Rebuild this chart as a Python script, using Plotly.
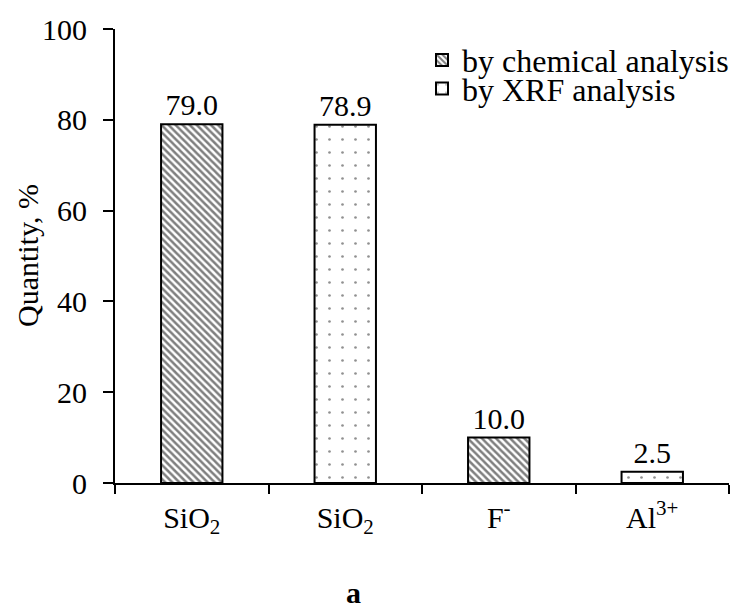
import plotly.graph_objects as go

# Categories along the x axis (the second SiO2 column carries a zero-width
# space so that both SiO2 columns stay separate categories)
categories = ["SiO<sub>2</sub>", "SiO<sub>2</sub>\u200b", "F<sup>-</sup>", "Al<sup>3+</sup>"]

# Quantity, % by method
chem_categories = [categories[0], categories[2]]
chem_values = [79.0, 10.0]
xrf_categories = [categories[1], categories[3]]
xrf_values = [78.9, 2.5]

y_ticks = [0, 20, 40, 60, 80, 100]

FONT = "Liberation Serif, Times New Roman, serif"

fig = go.Figure()

fig.add_trace(go.Bar(
    name="by chemical analysis",
    x=chem_categories, y=chem_values,
    width=0.4,
    marker=dict(color="white",
                line=dict(color="black", width=2),
                pattern=dict(shape="\\", size=5, solidity=0.5,
                             fgcolor="black", bgcolor="white")),
    texttemplate="%{y:.1f}", textposition="outside",
    textfont=dict(family=FONT, size=30, color="black"),
    constraintext="none", cliponaxis=False,
    showlegend=True, legend="legend",
))

fig.add_trace(go.Bar(
    name="by XRF analysis",
    x=xrf_categories, y=xrf_values,
    width=0.4,
    marker=dict(color="white",
                line=dict(color="black", width=2),
                pattern=dict(shape=".", size=13, solidity=0.035,
                             fgcolor="#222222", bgcolor="white")),
    texttemplate="%{y:.1f}", textposition="outside",
    textfont=dict(family=FONT, size=30, color="black"),
    constraintext="none", cliponaxis=False,
    showlegend=True, legend="legend2",
))

legend_common = dict(
    xref="paper", yref="paper", xanchor="left", yanchor="top",
    bgcolor="rgba(0,0,0,0)", borderwidth=0, visible=True,
    font=dict(family=FONT, size=32, color="black"),
)

fig.update_layout(
    width=732, height=609,
    margin=dict(l=115, r=3, t=29, b=126, autoexpand=False),
    paper_bgcolor="white", plot_bgcolor="white",
    font=dict(family=FONT, size=30, color="black"),
    barmode="overlay",
    showlegend=True,
    legend=dict(x=0.5, y=0.992, **legend_common),
    legend2=dict(x=0.5, y=0.929, **legend_common),
    xaxis=dict(
        type="category", categoryorder="array", categoryarray=categories,
        tickson="boundaries", ticks="outside", ticklen=9, tickwidth=2,
        tickcolor="black", showline=True, linecolor="black", linewidth=2,
        showgrid=False, zeroline=False, ticklabelstandoff=7,
        tickfont=dict(family=FONT, size=30, color="black"),
    ),
    yaxis=dict(
        range=[0, 100], tickmode="array", tickvals=y_ticks,
        ticks="outside", ticklen=10, tickwidth=2, tickcolor="black",
        showline=True, linecolor="black", linewidth=2,
        showgrid=False, zeroline=False, ticklabelstandoff=10,
        tickfont=dict(family=FONT, size=30, color="black"),
    ),
    annotations=[
        # y-axis title, placed left of the tick labels
        dict(text="Quantity, %", textangle=-90, xref="paper", yref="paper",
             x=0, y=0.5, xanchor="center", yanchor="middle", xshift=-88,
             showarrow=False, font=dict(family=FONT, size=30, color="black")),
        # panel letter under the chart
        dict(text="<b>a</b>", xref="paper", yref="paper",
             x=0.388, y=-0.242, xanchor="center", yanchor="middle",
             showarrow=False, font=dict(family=FONT, size=30, color="black")),
    ],
)

fig.write_html("out.html")
